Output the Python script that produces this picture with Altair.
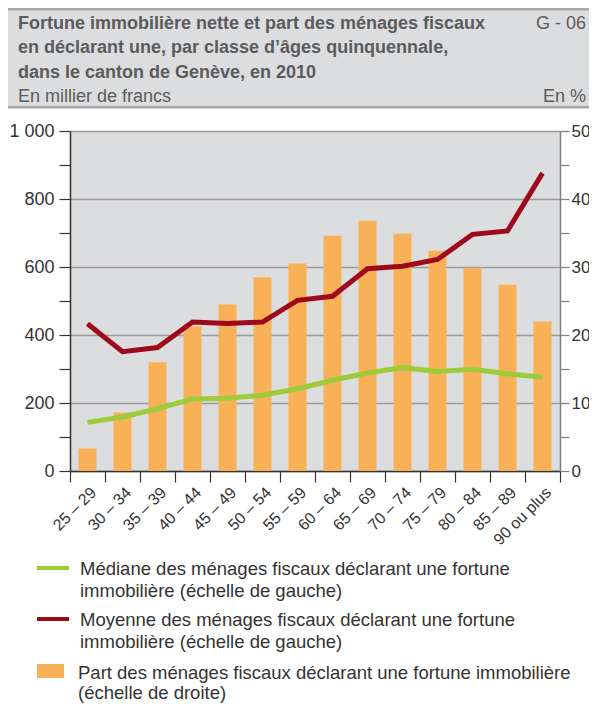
import altair as alt
import pandas as pd

categories = ["25 – 29", "30 – 34", "35 – 39", "40 – 44", "45 – 49", "50 – 54", "55 – 59",
              "60 – 64", "65 – 69", "70 – 74", "75 – 79", "80 – 84", "85 – 89", "90 ou plus"]
part = [3.3, 8.6, 16.0, 21.3, 24.5, 28.5, 30.5, 34.6, 36.8, 34.9, 32.4, 29.9, 27.4, 22.0]
moyenne = [433, 351, 363, 438, 434, 438, 502, 514, 595, 602, 622, 696, 706, 876]
mediane = [143, 159, 183, 212, 214, 223, 242, 267, 288, 304, 293, 299, 286, 276]

title_lines = ["Fortune immobilière nette et part des ménages fiscaux",
               "en déclarant une, par classe d’âges quinquennale,",
               "dans le canton de Genève, en 2010"]
code = "G - 06"
left_unit = "En millier de francs"
right_unit = "En %"
leg_med = "Médiane des ménages fiscaux déclarant une fortune\nimmobilière (échelle de gauche)"
leg_moy = "Moyenne des ménages fiscaux déclarant une fortune\nimmobilière (échelle de gauche)"
leg_part = "Part des ménages fiscaux déclarant une fortune immobilière\n(échelle de droite)"

F = "Liberation Sans"
BG = "#dcdddf"
ORANGE = "#f9b157"
RED = "#9e0a1c"
GREEN = "#9dcb3a"
TXT = "#333333"
TITLE = "#5b5b5b"

W, H = 490, 340
PL, PT, PR, PB = 62, 123, 29, 232

df = pd.DataFrame({"cat": categories, "part": part, "Moyenne": moyenne, "Médiane": mediane})
one = pd.DataFrame({"k": [0]})

xenc = alt.X("cat:N", sort=categories,
             scale=alt.Scale(paddingInner=0, paddingOuter=0),
             axis=alt.Axis(title=None, labelAngle=-45, labelAlign="right", labelBaseline="top",
                           tickBand="extent", tickSize=11, tickColor=TXT, domainColor=TXT,
                           domainWidth=1.5, tickWidth=1.2, labelFont=F, labelFontSize=16,
                           labelColor=TXT, labelPadding=2, grid=False))

bars = alt.Chart(df).mark_bar(size=18, color=ORANGE).encode(
    x=xenc,
    y=alt.Y("part:Q", scale=alt.Scale(domain=[0, 50], nice=False),
            axis=alt.Axis(orient="right", title=None, values=list(range(0, 51, 5)),
                          labelExpr="datum.value % 10 === 0 ? datum.label : ''",
                          grid=False, tickSize=9, tickColor="#7f7f7f", domainColor="#7f7f7f",
                          domainWidth=1.5, tickWidth=1.2, labelFont=F, labelFontSize=17,
                          labelColor=TXT, labelPadding=2)),
)

lines = alt.Chart(df).transform_fold(["Médiane", "Moyenne"], as_=["serie", "val"]).mark_line(
    strokeWidth=5, strokeCap="butt", strokeJoin="miter"
).encode(
    x=xenc,
    y=alt.Y("val:Q", scale=alt.Scale(domain=[0, 1000], nice=False),
            axis=alt.Axis(orient="left", title=None, values=list(range(0, 1001, 100)),
                          labelExpr="datum.value % 200 === 0 ? replace(format(datum.value, ','), ',', ' ') : ''",
                          grid=True, gridColor="#9a9a9a", gridWidth=1.5,
                          gridOpacity={"condition": {"test": "datum.value % 200 === 0", "value": 1}, "value": 0},
                          tickSize=11, tickColor=TXT, domainColor=TXT, domainWidth=1.5, tickWidth=1.2,
                          labelFont=F, labelFontSize=18, labelColor=TXT, labelPadding=5)),
    color=alt.Color("serie:N", scale=alt.Scale(domain=["Médiane", "Moyenne"], range=[GREEN, RED]),
                    legend=None),
    detail="serie:N",
)


def txt(s, x, y, size=18, bold=False, color=TXT, align="left", lh=None):
    kw = {}
    if lh is not None:
        kw["lineHeight"] = lh
    return alt.Chart(one).mark_text(
        text=s, align=align, baseline="middle", font=F, fontSize=size,
        fontWeight="bold" if bold else "normal", color=color, lineBreak="\n", **kw
    ).encode(x=alt.value(x), y=alt.value(y))


def rect(x, x2, y, y2, color):
    return alt.Chart(one).mark_rect(color=color).encode(
        x=alt.value(x), x2=alt.value(x2), y=alt.value(y), y2=alt.value(y2))


decor = [
    rect(-PL, W + PR, -PT, -PT + 100, BG),
    rect(-PL, W + PR, -PT, -PT + 2.5, "#a8a8a8"),
    rect(-PL, W + PR, -PT + 98, -PT + 100.5, "#a8a8a8"),
    txt(title_lines[0], -52, -PT + 16, bold=True, color=TITLE),
    txt(title_lines[1], -52, -PT + 40, bold=True, color=TITLE),
    txt(title_lines[2], -52, -PT + 65, bold=True, color=TITLE),
    txt(code, W + 26, -PT + 16, color=TITLE, align="right"),
    txt(left_unit, -52, -PT + 89, color=TITLE),
    txt(right_unit, W + 26, -PT + 89, color=TITLE, align="right"),
    rect(-33, -1, 435, 439, GREEN),
    txt(leg_med, 10, 438, size=18.5, lh=22),
    rect(-33, -1, 486, 490, RED),
    txt(leg_moy, 10, 489, size=18.5, lh=22),
    rect(-33, -6, 533, 547, ORANGE),
    txt(leg_part, 8, 542, size=18.5, lh=20),
]

chart = alt.layer(bars, lines, *decor).resolve_scale(y="independent").properties(
    width=W, height=H,
    autosize=alt.AutoSizeParams(type="none"),
    padding={"left": PL, "top": PT, "right": PR, "bottom": PB},
    background="white",
).configure_view(fill=BG, stroke=None)

chart.save("out.html", embed_options={"renderer": "svg", "actions": False})
